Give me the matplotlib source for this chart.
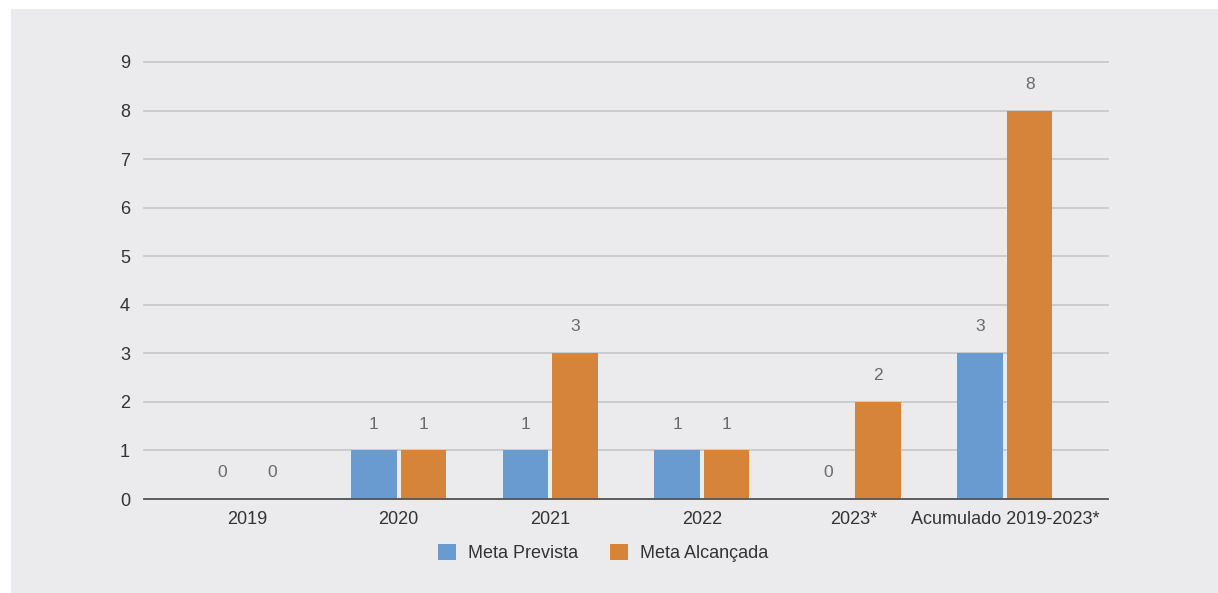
import matplotlib
matplotlib.use("Agg")
import matplotlib.pyplot as plt
from matplotlib.patches import Rectangle, Patch
import numpy as np

plt.rcParams["font.family"] = ["Liberation Sans", "DejaVu Sans"]

categories = ["2019", "2020", "2021", "2022", "2023*", "Acumulado 2019-2023*"]
meta_prevista = [0, 1, 1, 1, 0, 3]
meta_alcancada = [0, 1, 3, 1, 2, 8]
series_names = ["Meta Prevista", "Meta Alcançada"]
yticks = list(range(0, 10))

blue = "#6a9bd0"
orange = "#d5843a"
panel = "#ebebed"

W, H = 1218, 593
fig = plt.figure(figsize=(W / 100, H / 100), dpi=100)
fig.patch.set_facecolor("white")
fig.add_artist(Rectangle((11 / W, 0), 1 - 11 / W, 1 - 9 / H, transform=fig.transFigure,
                         facecolor=panel, edgecolor="none", zorder=0))

left, right = 144 / W, 1108 / W
bottom, top = 1 - 499 / H, 1 - 62 / H
ax = fig.add_axes([left, bottom, right - left, top - bottom])
ax.set_facecolor("none")

x = np.arange(len(categories))
bw = 0.30
off = 0.163
b1 = ax.bar(x - off, meta_prevista, bw, color=blue, zorder=3)
b2 = ax.bar(x + off, meta_alcancada, bw, color=orange, zorder=3)

for bars, vals in ((b1, meta_prevista), (b2, meta_alcancada)):
    for r, v in zip(bars, vals):
        ax.annotate(str(v), (r.get_x() + r.get_width() / 2, v), xytext=(0, 19),
                    textcoords="offset points", ha="center", va="center",
                    fontsize=12.5, color="#6a6a6a", zorder=4)

ax.set_ylim(0, 9)
ax.set_xlim(-0.68, len(categories) - 1 + 0.68)
ax.set_yticks(yticks)
ax.set_xticks(x)
ax.set_xticklabels(categories)
ax.yaxis.grid(True, color="#c6c6c6", linewidth=1.2, zorder=1)
for gl in ax.get_ygridlines():
    gl.set_clip_on(False)
ax.set_axisbelow(True)
for s in ("top", "right", "left"):
    ax.spines[s].set_visible(False)
ax.spines["bottom"].set_color("#555555")
ax.spines["bottom"].set_linewidth(1.3)
ax.spines["bottom"].set_zorder(5)
ax.tick_params(axis="both", length=0, labelsize=13, labelcolor="#333333")
ax.tick_params(axis="y", pad=10)
ax.tick_params(axis="x", pad=9)

handles = [Patch(facecolor=blue, label=series_names[0]),
           Patch(facecolor=orange, label=series_names[1])]
fig.legend(handles=handles, loc="center", bbox_to_anchor=(603 / W, 1 - 553 / H),
           ncol=2, frameon=False, fontsize=13, handlelength=1.0, handleheight=1.0,
           columnspacing=1.8, handletextpad=0.65, labelcolor="#333333")

fig.savefig("out.png", dpi=100, facecolor=fig.get_facecolor())
